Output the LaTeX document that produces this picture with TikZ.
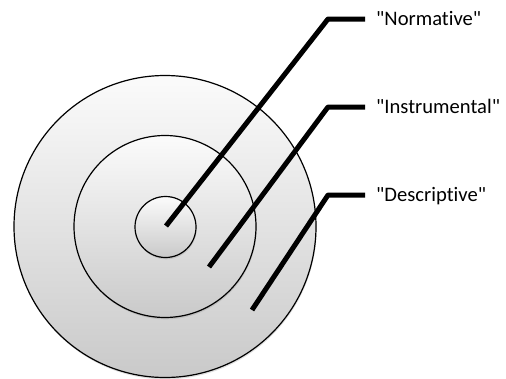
\documentclass[tikz,border=0pt]{standalone}
\usepackage{fontspec}
\newfontfamily\calfont[Ligatures=NoCommon]{Carlito}
\usetikzlibrary{shadows}
\begin{document}
\begin{tikzpicture}[x=1pt,y=-1pt,
  ring/.style={circle, draw=black, line width=1.2pt, inner sep=0pt,
    top color=gray!3, bottom color=gray!42,
    drop shadow={shadow xshift=0.6pt, shadow yshift=-1.8pt, opacity=0.25}},
  conn/.style={line width=5pt, line join=round},
  lbl/.style={anchor=base west, inner xsep=11pt, inner ysep=0pt, font=\calfont\fontsize{20.6}{24}\selectfont}]
\useasboundingbox (0,0) rectangle (506,378);
\node[ring, minimum size=302pt] (outer) at (165,226.5) {};
\node[ring, minimum size=182pt] (middle) at (165,226.5) {};
\node[ring, minimum size=61pt] (inner) at (165.5,227) {};
% labels
\node[lbl] (norm) at (365,25) {"Normative"};
\node[lbl] (instr) at (365,113) {"Instrumental"};
\node[lbl] (desc) at (365,201) {"Descriptive"};
% connector points
\coordinate (sN) at (166,226);
\coordinate (eN) at (328,19);
\coordinate (sI) at (209,267);
\coordinate (eI) at (328,107);
\coordinate (sD) at (252,310);
\coordinate (eD) at (328,195);
\draw[conn] (sN) -- (eN) -- (eN -| norm.west);
\draw[conn] (sI) -- (eI) -- (eI -| instr.west);
\draw[conn] (sD) -- (eD) -- (eD -| desc.west);
\end{tikzpicture}
\end{document}
